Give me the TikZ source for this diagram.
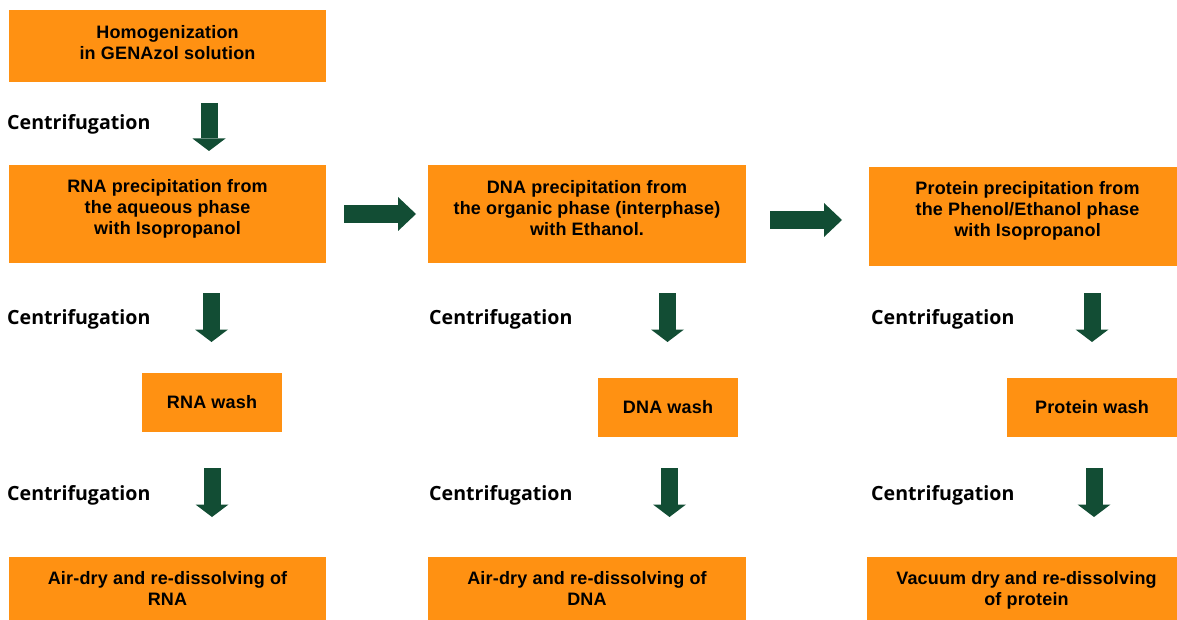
\documentclass[tikz,border=0pt]{standalone}
\usepackage{fontspec}
\usepackage{tikz}
\usetikzlibrary{arrows.meta, positioning}
\newfontfamily\boxfamily[LetterSpace=1]{Liberation Sans}
\newfontfamily\spinfamily{Open Sans}
\newcommand{\boxfont}{\boxfamily\bfseries\fontsize{18}{21}\selectfont}
\newcommand{\spinfont}{\spinfamily\bfseries\fontsize{19.6}{24}\selectfont}
\definecolor{genorange}{RGB}{255,145,18}
\definecolor{gengreen}{RGB}{18,77,52}
\tikzset{
  %% ---- boxes ----
  stepbox/.style  = {rectangle, fill=genorange, draw=none, inner sep=0pt,
                     font=\boxfont, align=center},
  boxtext/.style  = {font=\boxfont, align=center, inner sep=0pt, anchor=north},
  spinlabel/.style= {font=\spinfont, inner sep=0pt, anchor=base west},
  %% ---- arrows ----
  downarrow/.style = {-{Triangle[width=33pt, length=12.5pt, line width=0pt]},
                      line width=17pt, color=gengreen},
  rightarrow/.style= {-{Triangle[width=34pt, length=18pt, line width=0pt]},
                      line width=17.5pt, color=gengreen},
}

\begin{document}
\begin{tikzpicture}[x=1pt, y=-1pt]
  \useasboundingbox (0,0) rectangle (1177,620);
  \clip (0,0) rectangle (1177,620);

  %% top box
  \node[stepbox, minimum width=317pt, minimum height=72pt] (home) at (167.5,46) {};
  \node[boxtext] (hometxt) at ([yshift=-15pt]home.north)
    {Homogenization\\in GENAzol solution};

  %% precipitation row
  \node[stepbox, minimum width=317pt, minimum height=98pt] (rnap) at (167.5,214) {};
  \node[stepbox, minimum width=318pt, minimum height=98pt] (dnap) at (587,214) {};
  \node[stepbox, minimum width=317pt, minimum height=99pt] (protp) at (1027.5,216.5) {};
  \node[boxtext] (rnaptxt) at ([yshift=-14.8pt]rnap.north)
    {RNA precipitation from\\the aqueous phase\\with Isopropanol};
  \node[boxtext] (dnaptxt) at ([yshift=-15pt]dnap.north)
    {DNA precipitation from\\the organic phase (interphase)\\with Ethanol.};
  \node[boxtext] (protptxt) at ([yshift=-14.2pt]protp.north)
    {Protein precipitation from\\the Phenol/Ethanol phase\\with Isopropanol};

  %% wash row
  \node[stepbox, minimum width=140pt, minimum height=59pt] (rnaw) at (212,402.5) {RNA wash};
  \node[stepbox, minimum width=140pt, minimum height=59pt] (dnaw) at (668,407.5) {DNA wash};
  \node[stepbox, minimum width=170pt, minimum height=59pt] (protw) at (1092,407.5) {Protein wash};

  %% dissolving row
  \node[stepbox, minimum width=317pt, minimum height=68pt] (rnad) at (167.5,591) {};
  \node[stepbox, minimum width=318pt, minimum height=68pt] (dnad) at (587,591) {};
  \node[stepbox, minimum width=319pt, minimum height=68pt] (protd) at (1026.5,591) {};
  \node[boxtext] (rnadtxt) at ([yshift=-14.5pt]rnad.north)
    {Air-dry and re-dissolving of\\RNA};
  \node[boxtext] (dnadtxt) at ([yshift=-14pt]dnad.north)
    {Air-dry and re-dissolving of\\DNA};
  \node[boxtext] (protdtxt) at ([yshift=-14.5pt]protd.north)
    {Vacuum dry and re-dissolving\\of protein};

  %% centrifugation labels
  \node[spinlabel] (spin0) at (7,130) {Centrifugation};
  \foreach \c/\x in {rna/7, dna/429, prot/871} {
    \node[spinlabel] (spin\c a) at (\x,324) {Centrifugation};
    \node[spinlabel] (spin\c b) at (\x,500) {Centrifugation};
  }

  %% down arrows
  \foreach \n/\x/\ya/\yb in {h/209/103/151,
                            ra/211.5/293/342, da/667.5/293/342, pa/1092/293/342,
                            rb/212/468/517, db/669.5/468/517, pb/1094/468/517} {
    \coordinate (\n s) at (\x,\ya);
    \coordinate (\n e) at (\x,\yb);
    \draw[downarrow] (\n s) -- (\n e);
  }

  %% right arrows
  \coordinate (r1s) at (344,214);
  \coordinate (r1e) at (416,214);
  \coordinate (r2s) at (770,220);
  \coordinate (r2e) at (842,220);
  \draw[rightarrow] (r1s) -- (r1e);
  \draw[rightarrow] (r2s) -- (r2e);

\end{tikzpicture}
\end{document}
